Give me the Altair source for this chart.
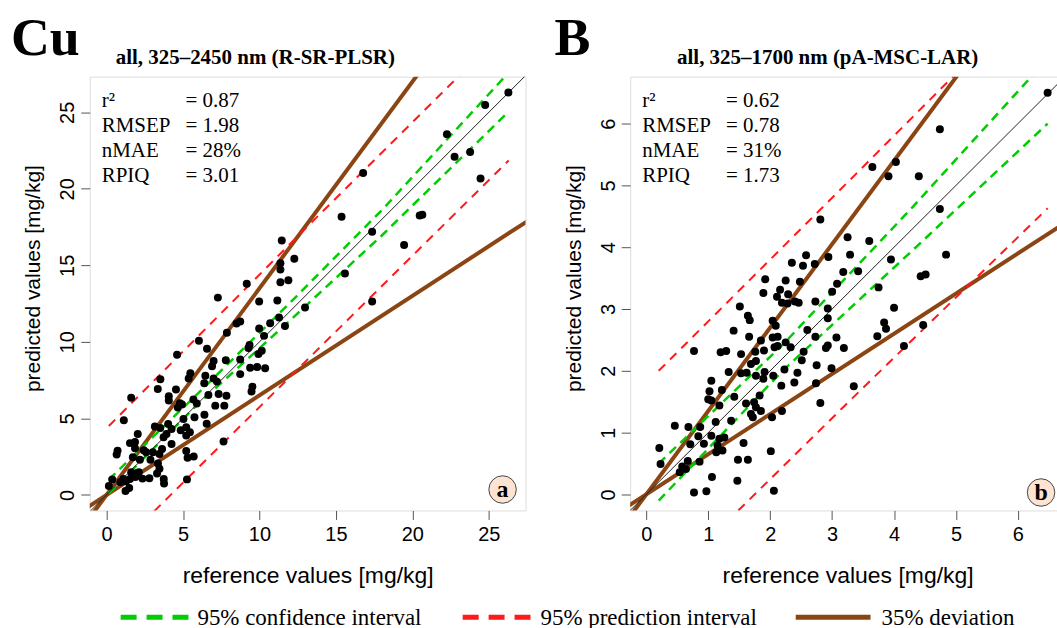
import altair as alt
import pandas as pd

SANS = "Liberation Sans, Arial, sans-serif"
SERIF = "Liberation Serif, Times New Roman, serif"
GREEN = "#00CD00"
RED = "#FF1A1A"
BROWN = "#8B4513"
BADGE = "#FCE3D2"

# ---------------- panel a : Cu ----------------
cu_ref = [26.28, 24.76, 22.26, 23.78, 22.76, 24.46, 16.78, 15.37, 17.37, 20.48, 20.65, 19.46, 15.59, 17.37,
          11.46, 12.28, 11.37, 11.37, 11.37, 11.89, 9.17, 7.28, 9.98, 11.17, 12.98, 11.28, 11.67, 10.70,
          9.98, 10.30, 8.74, 8.50, 7.87, 6.04, 6.57, 4.61, 9.35, 9.28, 10.15, 9.93, 8.74, 7.80, 7.00, 6.90,
          9.39, 9.85, 10.37, 8.74, 5.48, 5.37, 6.46, 7.00, 7.22, 6.39, 3.52, 3.35, 4.54, 9.54, 9.48, 7.33,
          7.84, 6.66, 4.07, 4.07, 4.80, 4.93, 5.90, 5.68, 7.11, 7.70, 4.66, 1.61, 6.40, 5.75, 5.03, 6.55,
          1.13, 3.16, 3.51, 4.03, 4.25, 4.85, 5.21, 5.45, 3.92, 2.04, 3.73, 5.21, 7.65, 1.53, 1.86, 1.86,
          2.43, 2.59, 4.25, 3.03, 3.46, 5.21, 0.72, 0.66, 3.63, 5.30, 5.70, 3.36, 2.87, 2.18, 1.72, 3.46,
          3.30, 3.74, 3.76, 2.80, 2.35, 1.89, 2.00, 1.53, 1.10, 1.28, 0.37, 0.15, 1.24, 1.48, 5.26, 2.11,
          1.61, 0.91]
cu_pred = [26.30, 25.48, 23.57, 22.41, 22.09, 20.67, 21.04, 18.17, 17.20, 18.26, 18.30, 16.33, 14.46, 12.63,
           16.63, 15.43, 15.13, 14.72, 13.89, 14.02, 13.80, 12.89, 12.63, 12.70, 12.24, 11.59, 11.04, 11.22,
           10.87, 10.39, 11.33, 11.20, 10.59, 10.07, 9.55, 9.15, 9.80, 9.59, 9.41, 9.20, 8.85, 8.80, 8.75, 8.40,
           8.30, 8.36, 8.27, 7.89, 7.95, 7.60, 7.78, 7.60, 7.40, 7.30, 7.55, 6.91, 6.89, 7.07, 6.75, 6.59,
           6.48, 6.53, 6.45, 6.17, 5.98, 5.90, 5.97, 6.23, 5.83, 5.83, 5.70, 6.35, 5.24, 5.07, 4.96, 4.65,
           4.87, 4.46, 4.37, 4.63, 4.30, 4.22, 4.41, 4.09, 3.98, 3.98, 3.76, 3.87, 3.49, 3.38, 3.45, 3.05,
           2.91, 2.78, 3.33, 2.78, 2.67, 2.87, 2.89, 2.63, 3.00, 2.42, 2.51, 2.05, 2.30, 2.30, 2.46, 1.70,
           1.39, 1.04, 0.74, 1.08, 1.06, 1.17, 1.42, 1.04, 1.04, 0.88, 1.01, 0.58, 0.25, 0.45, 1.01, 1.48,
           1.48, 0.83]
cu_ci_x = [0.15, 6.0, 12.0, 18.0, 26.3]
cu_ci_upper = [1.0, 6.65, 12.55, 18.6, 27.6]
cu_ci_lower = [0.1, 5.95, 11.4, 16.95, 25.05]
cu_pi_x = [0.15, 13.0, 26.3]
cu_pi_upper = [4.5, 17.4, 30.6]
cu_pi_lower = [-4.0, 8.7, 21.85]
cu_line_x = [-1.5, 28.0]
cu_one = [-1.5, 28.0]
cu_dev_upper = [-2.03, 37.8]
cu_dev_lower = [-0.98, 18.2]
cu_stats = ["= 0.87", "= 1.98", "= 28%", "= 3.01"]

# ---------------- panel b : B ----------------
b_ref = [6.48, 4.74, 3.65, 4.03, 3.91, 4.40, 4.74, 2.81, 3.25, 3.60, 3.29, 4.84, 2.94, 3.95, 2.58, 2.35, 2.53,
         2.72, 3.42, 3.18, 4.43, 4.51, 1.92, 2.25, 2.48, 3.08, 3.00, 3.75, 2.16, 2.29, 1.89, 2.11, 2.19, 2.28,
         2.40, 2.46, 2.73, 1.51, 2.93, 4.00, 1.64, 1.67, 2.93, 1.41, 2.04, 2.09, 3.84, 3.87, 4.47, 2.60, 2.73,
         1.66, 1.85, 2.04, 2.12, 3.73, 3.07, 0.77, 1.20, 1.29, 1.53, 1.76, 1.90, 2.07, 2.12, 2.25, 2.33, 2.54,
         2.93, 2.90, 3.19, 4.16, 1.69, 1.77, 2.51, 2.75, 2.99, 1.33, 1.53, 1.62, 1.77, 1.91, 1.89, 2.05, 2.23,
         2.44, 2.39, 2.74, 3.35, 1.05, 2.18, 1.02, 1.22, 1.00, 1.05, 1.18, 1.42, 1.61, 1.74, 1.77, 1.83, 1.85,
         1.72, 1.69, 2.19, 2.03, 2.81, 1.12, 1.37, 0.46, 0.68, 0.87, 1.05, 0.84, 0.71, 0.93, 1.18, 1.26, 1.15,
         1.23, 1.13, 1.57, 1.48, 1.64, 2.01, 0.21, 0.23, 0.67, 0.86, 0.58, 0.54, 0.64, 1.06, 1.47, 0.77, 0.97,
         2.06]
b_pred = [6.50, 5.91, 5.30, 5.38, 5.15, 5.15, 4.62, 4.45, 4.16, 4.10, 3.88, 3.88, 3.84, 3.80, 3.87, 3.75, 3.70,
          3.73, 3.61, 3.60, 3.53, 3.56, 3.48, 3.46, 3.44, 3.41, 3.28, 3.35, 3.31, 3.24, 3.26, 3.20, 3.10, 3.09,
          3.12, 3.10, 3.12, 3.04, 3.01, 3.02, 2.89, 2.82, 2.85, 2.65, 2.81, 2.73, 2.78, 2.68, 2.74, 2.66, 2.55,
          2.55, 2.49, 2.54, 2.55, 2.56, 2.54, 2.32, 2.30, 2.32, 2.27, 2.31, 2.33, 2.38, 2.40, 2.46, 2.38, 2.31,
          2.41, 2.37, 2.37, 2.40, 2.11, 2.16, 2.17, 2.09, 2.04, 1.98, 1.96, 1.97, 1.92, 1.98, 1.87, 1.92, 2.02,
          1.97, 1.81, 1.80, 1.75, 1.84, 1.76, 1.67, 1.69, 1.54, 1.52, 1.44, 1.58, 1.47, 1.49, 1.41, 1.60, 1.35,
          1.25, 1.30, 1.35, 1.25, 1.48, 1.17, 1.19, 1.11, 1.09, 1.09, 0.95, 0.94, 0.81, 0.82, 0.90, 0.92, 0.79,
          0.71, 0.68, 0.83, 0.56, 0.56, 0.70, 0.75, 0.49, 0.54, 0.53, 0.45, 0.36, 0.41, 0.28, 0.22, 0.03, 0.05,
          0.06]
b_ci_x = [0.2, 2.2, 4.3, 6.48]
b_ci_upper = [0.5, 2.42, 4.65, 7.05]
b_ci_lower = [-0.1, 2.0, 3.95, 6.0]
b_pi_x = [0.2, 3.3, 6.48]
b_pi_upper = [2.0, 5.1, 8.3]
b_pi_lower = [-1.53, 1.53, 4.63]
b_line_x = [-0.5, 7.0]
b_one = [-0.5, 7.0]
b_dev_upper = [-0.675, 9.45]
b_dev_lower = [-0.325, 4.55]
b_stats = ["= 0.62", "= 0.78", "= 31%", "= 1.73"]

stat_names = ["r²", "RMSEP", "nMAE", "RPIQ"]
legend_labels = ["95% confidence interval", "95% prediction interval", "35% deviation"]


def two_lines(xs, up, lo):
    return pd.DataFrame({"x": xs + xs, "y": up + lo, "side": ["u"] * len(xs) + ["l"] * len(xs)})


def one_row():
    return pd.DataFrame({"k": [0]})


def panel(ref, pred, ci_x, ci_u, ci_l, pi_x, pi_u, pi_l, lx, one, dev_u, dev_l,
          xdom, ydom, ticks, w, h, letter, title, title_x, stats, badge, badge_xy, legend=False):
    xs = alt.Scale(domain=xdom, nice=False, zero=False)
    ys = alt.Scale(domain=ydom, nice=False, zero=False)
    xax = alt.Axis(values=ticks, title="reference values [mg/kg]", format="d", grid=False, domain=False,
                   tickSize=9, tickColor="#555555", labelFont=SANS, labelFontSize=20, labelColor="black",
                   labelPadding=5, titleFont=SANS, titleFontSize=23, titleFontWeight="normal",
                   titleColor="black", titleBaseline="alphabetic", titleY=72)
    yax = alt.Axis(values=ticks, title="predicted values [mg/kg]", format="d", grid=False, domain=False,
                   tickSize=9, tickColor="#555555", labelFont=SANS, labelFontSize=20, labelColor="black",
                   labelAngle=-90, labelAlign="center", labelBaseline="alphabetic", labelPadding=7,
                   titleFont=SANS, titleFontSize=21, titleFontWeight="normal", titleColor="black",
                   titleAngle=-90, titleAlign="center", titleBaseline="alphabetic", titleX=-50, titleY=202)
    X = alt.X("x:Q", scale=xs, axis=xax)
    Y = alt.Y("y:Q", scale=ys, axis=yax)

    dev = alt.Chart(two_lines(lx, dev_u, dev_l)).mark_line(
        color=BROWN, strokeWidth=4, clip=True).encode(x=X, y=Y, detail="side:N")
    pi = alt.Chart(two_lines(pi_x, pi_u, pi_l)).mark_line(
        color=RED, strokeWidth=2, strokeDash=[9, 7], clip=True).encode(x=X, y=Y, detail="side:N")
    ci = alt.Chart(two_lines(ci_x, ci_u, ci_l)).mark_line(
        color=GREEN, strokeWidth=2.5, strokeDash=[9, 6], clip=True).encode(x=X, y=Y, detail="side:N")
    oneline = alt.Chart(pd.DataFrame({"x": lx, "y": one})).mark_line(
        color="#222222", strokeWidth=1, clip=True).encode(x=X, y=Y)
    pts = alt.Chart(pd.DataFrame({"x": ref, "y": pred})).mark_circle(
        size=64, color="black", opacity=1).encode(x=X, y=Y)

    txt_names = alt.Chart(one_row()).mark_text(
        font=SERIF, fontSize=21, align="left", baseline="alphabetic", lineBreak="\n", lineHeight=25.3,
        color="black").encode(x=alt.value(12), y=alt.value(30), text=alt.value("\n".join(stat_names)))
    txt_vals = alt.Chart(one_row()).mark_text(
        font=SERIF, fontSize=21, align="left", baseline="alphabetic", lineBreak="\n", lineHeight=25.3,
        color="black").encode(x=alt.value(96), y=alt.value(30), text=alt.value("\n".join(stats)))

    circ = alt.Chart(one_row()).mark_circle(
        size=760, fill=BADGE, stroke="#444444", strokeWidth=1, opacity=1).encode(
        x=alt.value(badge_xy[0]), y=alt.value(badge_xy[1]))
    circ_t = alt.Chart(one_row()).mark_text(
        font=SERIF, fontSize=24, fontWeight="bold", align="center", baseline="middle", color="black").encode(
        x=alt.value(badge_xy[0]), y=alt.value(badge_xy[1] + 1), text=alt.value(badge))

    big = alt.Chart(one_row()).mark_text(
        font=SERIF, fontSize=54, fontWeight="bold", align="left", baseline="alphabetic", color="black").encode(
        x=alt.value(-76 if letter == "B" else -79), y=alt.value(-22), text=alt.value(letter))
    ttl = alt.Chart(one_row()).mark_text(
        font=SERIF, fontSize=21, fontWeight="bold", align="center", baseline="alphabetic", color="black").encode(
        x=alt.value(title_x), y=alt.value(-13), text=alt.value(title))

    layers = [dev, pi, ci, oneline, pts, txt_names, txt_vals, circ, circ_t, big, ttl]

    if legend:
        specs = [(GREEN, [16, 10], 31, 99, 108, legend_labels[0]),
                 (RED, [16, 10], 374, 443, 452, legend_labels[1]),
                 (BROWN, [1, 0], 708, 783, 794, legend_labels[2])]
        for col, dash, a, b, tx, lab in specs:
            if col == BROWN:
                r = alt.Chart(one_row()).mark_rule(color=col, strokeWidth=5).encode(
                    x=alt.value(a), x2=alt.value(b), y=alt.value(542))
            else:
                r = alt.Chart(one_row()).mark_rule(color=col, strokeWidth=5, strokeDash=dash).encode(
                    x=alt.value(a), x2=alt.value(b), y=alt.value(542))
            t = alt.Chart(one_row()).mark_text(
                font=SERIF, fontSize=23, align="left", baseline="alphabetic", color="black").encode(
                x=alt.value(tx), y=alt.value(550), text=alt.value(lab))
            layers += [r, t]

    return alt.layer(*layers).properties(width=w, height=h)


pa = panel(cu_ref, cu_pred, cu_ci_x, cu_ci_upper, cu_ci_lower, cu_pi_x, cu_pi_upper, cu_pi_lower,
           cu_line_x, cu_one, cu_dev_upper, cu_dev_lower,
           [-1.1, 27.4], [-1.02, 27.33], [0, 5, 10, 15, 20, 25], 437, 435,
           "Cu", "all, 325–2450 nm (R-SR-PLSR)", 166, cu_stats, "a", (414, 414), legend=True)
pb = panel(b_ref, b_pred, b_ci_x, b_ci_upper, b_ci_lower, b_pi_x, b_pi_upper, b_pi_lower,
           b_line_x, b_one, b_dev_upper, b_dev_lower,
           [-0.26, 6.76], [-0.26, 6.76], [0, 1, 2, 3, 4, 5, 6], 436, 435,
           "B", "all, 325–1700 nm (pA-MSC-LAR)", 198, b_stats, "b", (412, 417))

chart = alt.hconcat(pa, pb, spacing=105, bounds="flush").properties(
    padding={"left": 10, "top": 10, "right": -9, "bottom": -3}
).configure_view(stroke="#555555", strokeWidth=1).configure(background="white")

chart.save("out.html", embed_options={"renderer": "svg", "actions": False})
